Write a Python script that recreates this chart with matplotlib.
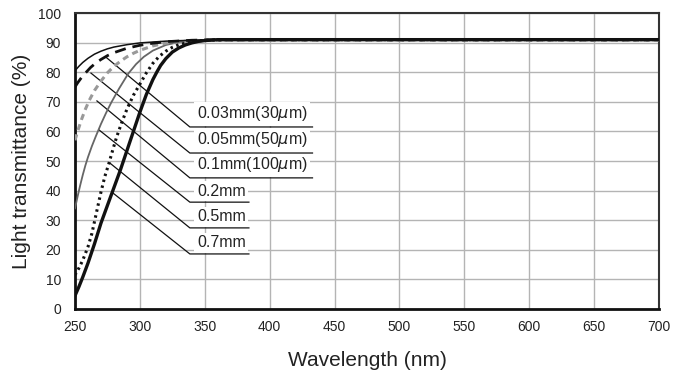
import matplotlib
matplotlib.use("Agg")
import matplotlib.pyplot as plt

plt.rcParams['font.family'] = ['Liberation Sans', 'DejaVu Sans']

# curves: wavelength (nm) and transmittance (%)
wl_003 = [250, 253, 256, 260, 265, 270, 275, 280, 290, 300, 320, 340, 360, 700]
t_003 = [80.5, 82, 83.3, 84.7, 86.1, 87.1, 87.9, 88.5, 89.3, 89.9, 90.5, 90.8, 91, 91]

wl_005 = [250, 252, 255, 258, 262, 266, 270, 275, 280, 290, 300, 310, 320, 340, 360, 700]
t_005 = [75, 76.4, 78.2, 79.7, 81.6, 83.1, 84.3, 85.6, 86.6, 88.1, 89.1, 89.8, 90.3, 90.8, 91, 91]

wl_01 = [250, 252, 255, 258, 261, 265, 270, 275, 280, 285, 290, 295, 300, 310, 320, 330, 340, 360, 700]
t_01 = [57, 60, 64, 67.5, 70.5, 73.8, 77, 79.8, 82, 83.7, 85.2, 86.4, 87.4, 88.9, 89.8, 90.3, 90.6, 90.8, 90.8]

wl_02 = [250, 252, 254, 256, 258, 260, 263, 266, 270, 274, 278, 284, 291, 297, 303, 310, 320, 330, 340, 350, 700]
t_02 = [34, 38, 41.8, 45.3, 48.5, 51.3, 55, 58.3, 62.5, 66.3, 69.8, 74.5, 79.5, 82.7, 85.2, 87.3, 89.2, 90.2, 90.6, 90.8, 91]

wl_05 = [250, 253, 256, 260, 263, 266, 270, 273, 276, 279, 282, 286, 290, 295, 300, 305, 310, 315, 320, 325, 330, 340, 350, 370, 700]
t_05 = [11.5, 13.8, 16.5, 21, 25.5, 31.5, 39.5, 44.8, 49, 53.6, 58, 63, 67.5, 72.2, 76, 79.8, 83, 85.4, 87.1, 88.4, 89.3, 90.3, 90.8, 91, 91]

wl_07 = [250, 253, 256, 260, 265, 270, 275, 280, 285, 290, 295, 300, 305, 310, 313, 316, 320, 325, 330, 335, 340, 345, 350, 360, 700]
t_07 = [4.5, 7.5, 10.8, 15.5, 22, 29, 35, 41, 47, 53.5, 60, 66.5, 72.5, 77.5, 80, 82.3, 84.6, 86.8, 88.2, 89.2, 89.9, 90.4, 90.7, 91, 91]

labels = ['0.03mm(30$\\mu$m)', '0.05mm(50$\\mu$m)', '0.1mm(100$\\mu$m)', '0.2mm', '0.5mm', '0.7mm']
# leader start points on the curves (nm, %)
lead_x = [273.8, 262.3, 266.9, 268.5, 276.9, 279.2]
lead_y = [85.1, 79.7, 70.3, 60.5, 49.3, 39.2]
label_y = [61.5, 52.7, 44.3, 36.1, 27.4, 18.6]
label_end = [433, 433, 433, 384, 384, 384]

fig = plt.figure(figsize=(6.97, 3.74), dpi=100)
ax = fig.add_axes([0.1076, 0.1738, 0.8379, 0.7914])

ax.set_xlim(250, 700)
ax.set_ylim(0, 100)
ax.set_xticks(range(250, 701, 50))
ax.set_yticks(range(0, 101, 10))
ax.grid(True, color='#b4b4b4', linewidth=1.0)
ax.set_axisbelow(True)
ax.tick_params(length=0, labelsize=10, colors='#222222')
ax.tick_params(axis='x', pad=8)
ax.tick_params(axis='y', pad=10)
for s in ['left', 'bottom']:
    ax.spines[s].set_linewidth(2)
    ax.spines[s].set_color('#111111')
for s in ['top', 'right']:
    ax.spines[s].set_linewidth(1.5)
    ax.spines[s].set_color('#333333')

# leaders and labels
for lx, ly, ty, te, lab in zip(lead_x, lead_y, label_y, label_end, labels):
    ax.text(344, ty + 1.2, lab, fontsize=11.5, color='#222222', va='bottom', ha='left', zorder=3,
            bbox=dict(facecolor='white', edgecolor='none', pad=2))
    ax.plot([lx, 338.5, te], [ly, ty, ty], color='#111111', linewidth=0.9, zorder=4)

ax.plot(wl_02, t_02, color='#666666', linewidth=1.3, zorder=5)
ax.plot(wl_01, t_01, color='#999999', linewidth=2.2, linestyle=(0, (2, 1.5)), zorder=5)
ax.plot(wl_003, t_003, color='#111111', linewidth=1.1, zorder=6)
ax.plot(wl_005, t_005, color='#111111', linewidth=2.0, linestyle=(0, (4, 2.5)), zorder=6)
ax.plot(wl_05, t_05, color='#111111', linewidth=2.2, linestyle=(0, (0.8, 1.2)), zorder=6)
ax.plot(wl_07, t_07, color='#111111', linewidth=2.4, zorder=7)

ax.set_xlabel('Wavelength (nm)', fontsize=15, labelpad=12, color='#222222')
ax.set_ylabel('Light transmittance (%)', fontsize=15, labelpad=5, color='#222222')

fig.savefig('out.png', dpi=100)
